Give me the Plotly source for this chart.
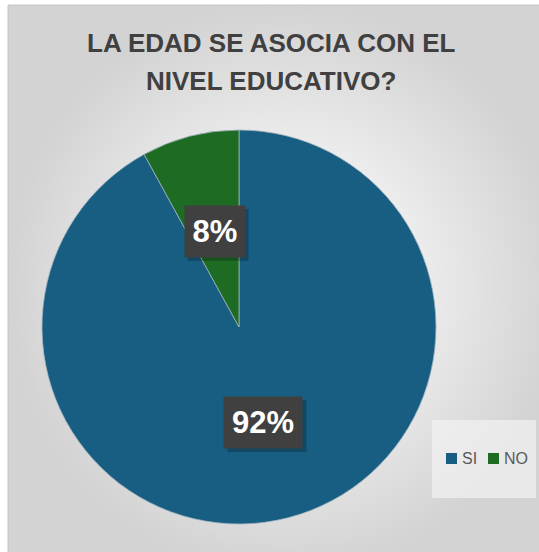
import plotly.graph_objects as go
import math

# ---- data ----
categories = ["SI", "NO"]
values = [92, 8]
slice_colors = ["#175e82", "#1e6b24"]
title_lines = ["LA EDAD SE ASOCIA CON EL", "NIVEL EDUCATIVO?"]

W, H = 539, 552
def px(x):
    return x / W
def py(y):
    return 1 - y / H

# pie geometry (pixels)
CX, CY, R = 239, 327, 197

fig = go.Figure()

# background gradient panel on hidden cartesian axes
fig.add_trace(go.Scatter(
    x=[8, 560, 560, 8, 8], y=[5, 5, 570, 570, 5],
    mode="lines", fill="toself", line=dict(width=1, color="#c4c4c4"),
    fillgradient=dict(type="radial",
                      colorscale=[[0, "#fbfbfb"], [0.5, "#ececec"], [1, "#d3d3d3"]]),
    hoverinfo="skip", showlegend=False,
))

fig.add_trace(go.Pie(
    labels=categories, values=values, sort=False, direction="clockwise",
    rotation=0, marker=dict(colors=slice_colors, line=dict(width=0.8, color="#9fb3bf")),
    textinfo="none", hoverinfo="label+percent", showlegend=False,
    domain=dict(x=[px(CX - R), px(CX + R)], y=[py(CY + R), py(CY - R)]),
))

# data labels positioned from the data (mid-angle of each slice, half radius)
total = sum(values)
cum = 0
annotations = []
shapes = []
for v in values:
    mid = (cum + v / 2) / total * 2 * math.pi
    cum += v
    lx = CX + 0.5 * R * math.sin(mid)
    ly = CY - 0.5 * R * math.cos(mid)
    txt = f"{round(v / total * 100)}%"
    wbox = 18 * len(txt) + 12
    # soft shadow
    shapes.append(dict(type="rect", xref="paper", yref="paper",
                       x0=px(lx - wbox / 2 - 6 + 3), x1=px(lx + wbox / 2 + 6 + 4),
                       y0=py(ly + 25.5 + 4), y1=py(ly - 25.5 + 3),
                       fillcolor="rgba(0,0,0,0.22)", line=dict(width=0), layer="above"))
    annotations.append(dict(
        x=px(lx), y=py(ly), xref="paper", yref="paper", showarrow=False,
        text=f"<b>{txt}</b>", font=dict(family="Liberation Sans", size=31, color="white"),
        bgcolor="#404040", borderpad=6, width=wbox, height=39,
        xanchor="center", yanchor="middle",
    ))

for i, line in enumerate(title_lines):
    annotations.append(dict(
        x=px(271), y=py(43 + 38 * i), xref="paper", yref="paper", showarrow=False,
        text=f"<b>{line}</b>", font=dict(family="Liberation Sans", size=26, color="#404040"),
        xanchor="center", yanchor="middle",
    ))

# legend (drawn manually so it does not push the margins)
shapes.append(dict(type="rect", xref="paper", yref="paper",
                   x0=px(432), x1=px(536), y0=py(498), y1=py(420),
                   fillcolor="rgba(242,242,242,0.7)", line=dict(width=0), layer="above"))
leg_x = [446, 488]
for i, (cat, col) in enumerate(zip(categories, slice_colors)):
    x0 = leg_x[i]
    shapes.append(dict(type="rect", xref="paper", yref="paper",
                       x0=px(x0), x1=px(x0 + 11), y0=py(464), y1=py(453),
                       fillcolor=col, line=dict(width=0), layer="above"))
    annotations.append(dict(
        x=px(x0 + 14), y=py(458.5), xref="paper", yref="paper", showarrow=False,
        text=cat, font=dict(family="Liberation Sans", size=16, color="#595959"),
        xanchor="left", yanchor="middle",
    ))

fig.update_layout(
    width=W, height=H, margin=dict(l=0, r=0, t=0, b=0),
    paper_bgcolor="white", plot_bgcolor="rgba(0,0,0,0)",
    xaxis=dict(range=[0, W], visible=False, fixedrange=True),
    yaxis=dict(range=[H, 0], visible=False, fixedrange=True),
    annotations=annotations, shapes=shapes,
    showlegend=False,
)

fig.write_html("out.html", config={"displayModeBar": False},
               post_script="document.body.style.margin='0';document.body.style.overflow='hidden';")
